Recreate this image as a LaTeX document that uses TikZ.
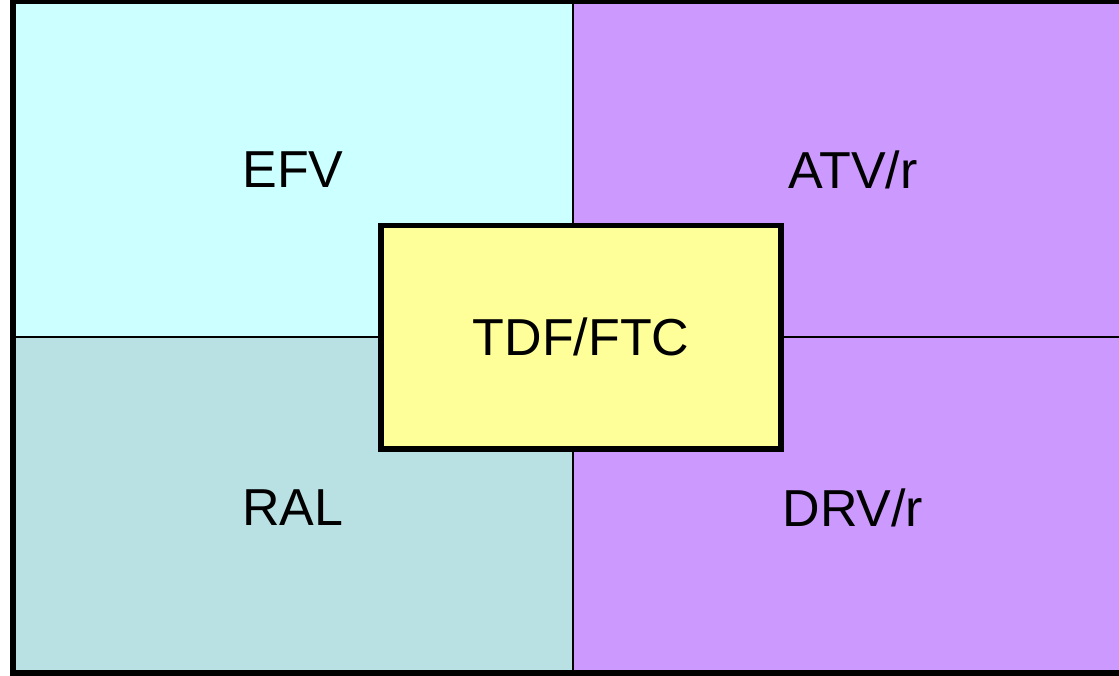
\documentclass[tikz,border=0pt]{standalone}
\usepackage{fontspec}
\setmainfont{Liberation Sans}
\definecolor{cyanq}{HTML}{CCFFFF}
\definecolor{tealq}{HTML}{B9E0E3}
\definecolor{purpq}{HTML}{CC99FF}
\definecolor{yellq}{HTML}{FFFF99}
\tikzset{
  quad/.style={draw=black, line width=1.5pt},
  lbl/.style={font=\fontsize{52}{60}\selectfont, text=black, inner sep=0pt},
  centre/.style={draw=black, line width=5.5pt, fill=yellq, minimum width=400pt, minimum height=223.5pt, font=\fontsize{52}{60}\selectfont, inner sep=0pt},
}
\begin{document}
\begin{tikzpicture}[x=1pt,y=-1pt]
\useasboundingbox (0,0) rectangle (1119,676);
\begin{scope}
\clip (0,0) rectangle (1119,676);
\fill[cyanq] (13,2) rectangle (573,337);
\fill[tealq] (13,337) rectangle (573,673);
\fill[purpq] (573,2) rectangle (1130,673);
\draw[quad] (573,2) -- (573,673);
\draw[quad] (13,337) -- (1130,337);
\draw[line width=5.5pt] (1130,1.5) -- (13,1.5) -- (13,673) -- (1130,673);
\end{scope}
\node[lbl] (efv) at (293,170) {EFV};
\node[lbl] (atv) at (853,170) {ATV/r};
\node[lbl] (ral) at (293,508) {RAL};
\node[lbl] (drv) at (853,508) {DRV/r};
\node[centre] (tdf) at (581,337.25) {TDF/FTC};
\end{tikzpicture}
\end{document}
